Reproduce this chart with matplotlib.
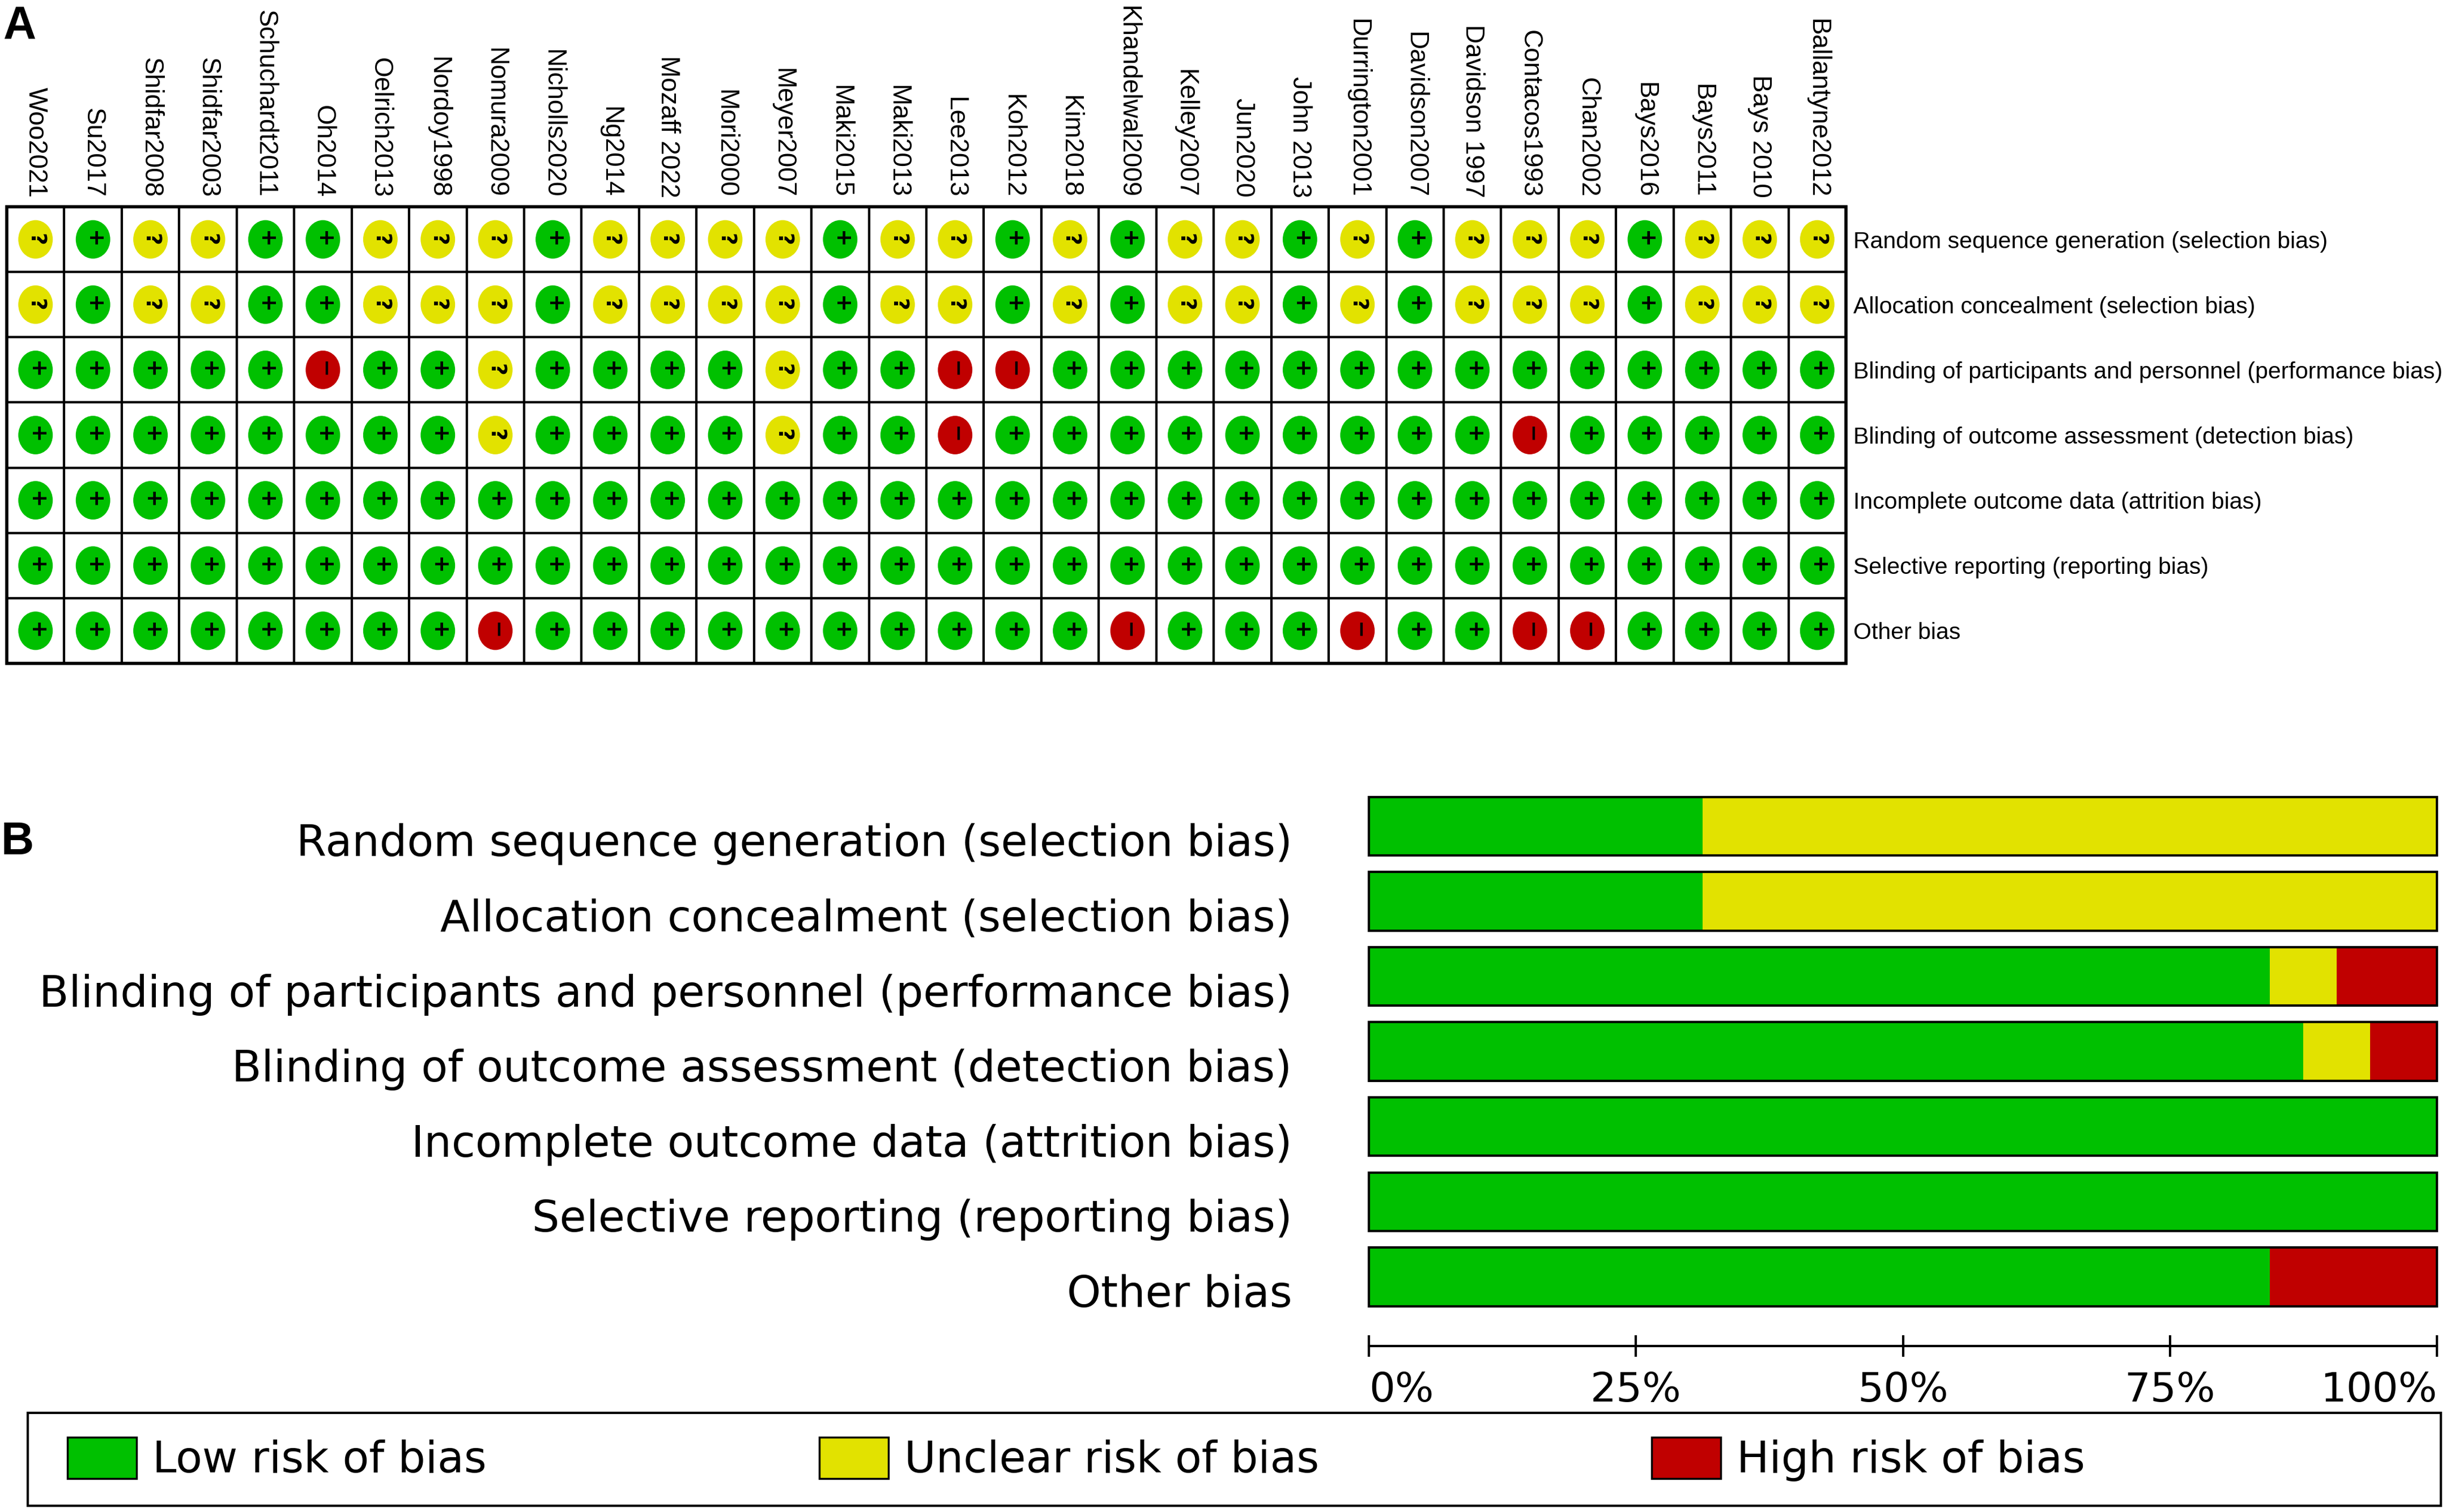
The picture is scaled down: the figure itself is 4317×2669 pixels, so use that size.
import matplotlib
matplotlib.use("Agg")
import matplotlib.pyplot as plt
from matplotlib.patches import Rectangle, Ellipse, Patch
from matplotlib.transforms import blended_transform_factory

# ---------------- data ----------------
studies = ["Woo2021", "Su2017", "Shidfar2008", "Shidfar2003", "Schuchardt2011", "Oh2014",
           "Oelrich2013", "Nordoy1998", "Nomura2009", "Nicholls2020", "Ng2014", "Mozaff 2022",
           "Mori2000", "Meyer2007", "Maki2015", "Maki2013", "Lee2013", "Koh2012", "Kim2018",
           "Khandelwal2009", "Kelley2007", "Jun2020", "John 2013", "Durrington2001",
           "Davidson2007", "Davidson 1997", "Contacos1993", "Chan2002", "Bays2016", "Bays2011",
           "Bays 2010", "Ballantyne2012"]

domains = ["Random sequence generation (selection bias)",
           "Allocation concealment (selection bias)",
           "Blinding of participants and personnel (performance bias)",
           "Blinding of outcome assessment (detection bias)",
           "Incomplete outcome data (attrition bias)",
           "Selective reporting (reporting bias)",
           "Other bias"]

# L = low, U = unclear, H = high risk (one code per study, same order as studies)
random_seq   = list("ULUULLUUULUUUULUULULUULULUUULUUU")
allocation   = list("ULUULLUUULUUUULUULULUULULUUULUUU")
blind_part   = list("LLLLLHLLULLLLULLHHLLLLLLLLLLLLLL")
blind_out    = list("LLLLLLLLULLLLULLHLLLLLLLLLHLLLLL")
incomplete   = list("LLLLLLLLLLLLLLLLLLLLLLLLLLLLLLLL")
selective    = list("LLLLLLLLLLLLLLLLLLLLLLLLLLLLLLLL")
other        = list("LLLLLLLLHLLLLLLLLLLHLLLHLLHHLLLL")
judgments = [random_seq, allocation, blind_part, blind_out, incomplete, selective, other]

categories = ["L", "U", "H"]
legend_labels = ["Low risk of bias", "Unclear risk of bias", "High risk of bias"]

# ---------------- style ----------------
colors = {"L": "#00C000", "U": "#E2E200", "H": "#C00000"}
symbols = {"L": "+", "U": "?", "H": "\u2212"}

W, H = 4317, 2669
fig = plt.figure(figsize=(W / 100, H / 100), dpi=100)
fig.patch.set_facecolor("white")


def fr(x0, y0, x1, y1):
    return [x0 / W, 1 - y1 / H, (x1 - x0) / W, (y1 - y0) / H]


sans = ["Liberation Sans", "DejaVu Sans"]

# ---------------- panel A ----------------
axA = fig.add_axes(fr(12, 365, 3258, 1171))
ncol, nrow = len(studies), len(domains)
axA.set_xlim(0, ncol)
axA.set_ylim(nrow, 0)
axA.axis("off")

for i, row in enumerate(judgments):
    for j, code in enumerate(row):
        axA.add_patch(Rectangle((j, i), 1, 1, facecolor="white", edgecolor="black",
                                lw=3, clip_on=False))
        axA.add_patch(Ellipse((j + 0.5, i + 0.5), 0.60, 0.59, facecolor=colors[code],
                              edgecolor="none", zorder=3))
        axA.text(j + 0.5, i + 0.5, symbols[code], ha="center", va="center",
                 rotation=270, fontsize=27, fontweight="bold", color="black",
                 family="DejaVu Sans", zorder=4)
axA.add_patch(Rectangle((0, 0), ncol, nrow, fill=False, edgecolor="black", lw=4,
                        clip_on=False, zorder=5))

for j, name in enumerate(studies):
    axA.text(j + 0.5, -0.14, name, rotation=270, ha="center", va="bottom",
             fontsize=33, family=sans, clip_on=False)

for i, dom in enumerate(domains):
    axA.text(ncol + 0.13, i + 0.5, dom, ha="left", va="center_baseline",
             fontsize=29.5, family=sans, clip_on=False)

fig.text(6 / W, 1 - 8 / H, "A", ha="left", va="top", fontsize=58,
         fontweight="bold", family=sans)

# ---------------- panel B ----------------
axB = fig.add_axes(fr(2416, 1392, 4301, 2376))
n = len(studies)
ypos = list(range(nrow))
left = [0.0] * nrow
for cat in categories:
    pct = [100.0 * row.count(cat) / n for row in judgments]
    axB.barh(ypos, pct, left=left, height=0.78, color=colors[cat], edgecolor="none",
             zorder=2)
    left = [a + b for a, b in zip(left, pct)]
axB.barh(ypos, [100] * nrow, height=0.78, fill=False, edgecolor="black", lw=3,
         zorder=3, clip_on=False)

axB.set_xlim(0, 100)
axB.set_ylim(nrow - 1 + 0.92, -0.5)
for s in ["left", "right", "top"]:
    axB.spines[s].set_visible(False)
axB.spines["bottom"].set_linewidth(3)
axB.set_yticks([])
axB.set_xticks([0, 25, 50, 75, 100])
axB.set_xticklabels(["0%", "25%", "50%", "75%", "100%"])
axB.tick_params(axis="x", direction="inout", length=28, width=3, pad=18,
                labelsize=52)
tl = axB.get_xticklabels()
tl[0].set_ha("left")
tl[-1].set_ha("right")
for t in tl:
    t.set_family("DejaVu Sans")

trans = blended_transform_factory(axB.transAxes, axB.transData)
for i, dom in enumerate(domains):
    axB.text(-0.072, i + 0.40, dom, transform=trans, ha="right", va="baseline",
             fontsize=55, family="DejaVu Sans", clip_on=False)

fig.text(2 / W, 1 - 1487 / H, "B", ha="left", va="center", fontsize=58,
         fontweight="bold", family=sans)

# ---------------- legend ----------------
handles = [Patch(facecolor=colors[c], edgecolor="black", lw=2.5) for c in categories]
fig.legend(handles, legend_labels, loc="center left",
           bbox_to_anchor=(119 / W, 1 - 2576 / H, (3680 - 119) / W, 0),
           mode="expand", ncol=3, frameon=False,
           prop={"family": "DejaVu Sans", "size": 55},
           handlelength=1.6, handleheight=1.1, handletextpad=0.37,
           borderpad=0, borderaxespad=0)
fig.add_artist(Rectangle((49 / W, 1 - 2658 / H), 4259 / W, 164 / H,
                         transform=fig.transFigure, fill=False, edgecolor="black",
                         lw=3))

fig.savefig("out.png", dpi=100, facecolor="white")
